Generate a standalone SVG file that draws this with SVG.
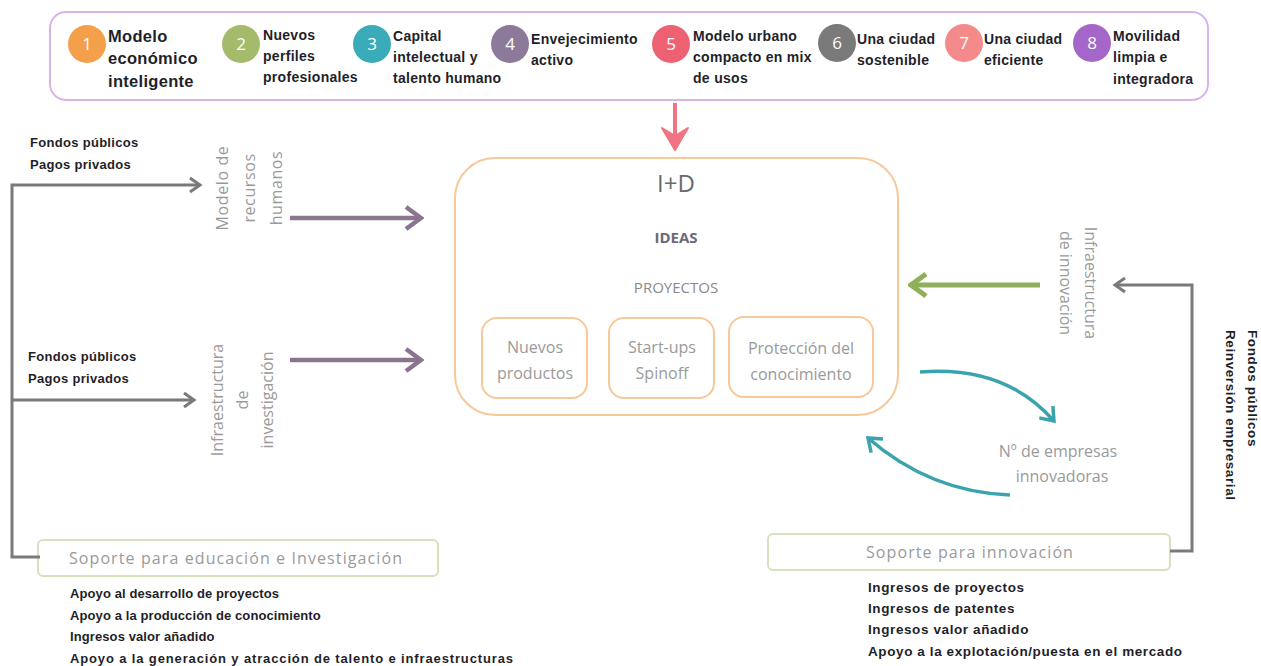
<svg xmlns="http://www.w3.org/2000/svg" width="1261" height="666" viewBox="0 0 1261 666">
<defs>
<style>
.lbl{font-family:"Liberation Sans",Arial,sans-serif;font-weight:bold;fill:#1f1f2a}
.top{font-family:"Liberation Sans",Arial,sans-serif;font-weight:bold;font-size:14px;letter-spacing:0.3px;fill:#1f1f2a}
.num{font-family:"Open Sans",sans-serif;font-size:17px;fill:#fff;text-anchor:middle}
.g{font-family:"Open Sans",sans-serif;font-size:16px;fill:#9a9a9a}
.c{text-anchor:middle}
.obox{fill:#fff;stroke:#f8c898;stroke-width:2}
.gbox{fill:#fff;stroke:#d3e2bc;stroke-width:2}
.gl{fill:none;stroke:#7a7a7a;stroke-width:3}
</style>
<marker id="mg" viewBox="0 0 20 20" refX="17" refY="10" markerWidth="20" markerHeight="20" markerUnits="userSpaceOnUse" orient="auto"><path d="M7,3 L17,10 L7,17" fill="none" stroke="#7a7a7a" stroke-width="3"/></marker>
<marker id="mp" viewBox="0 0 28 28" refX="25" refY="14" markerWidth="28" markerHeight="28" markerUnits="userSpaceOnUse" orient="auto"><path d="M10,3 L25,14 L10,25" fill="none" stroke="#8a7490" stroke-width="4.5"/></marker>
<marker id="mgr" viewBox="0 0 28 28" refX="25" refY="14" markerWidth="28" markerHeight="28" markerUnits="userSpaceOnUse" orient="auto"><path d="M10,3 L25,14 L10,25" fill="none" stroke="#8fb05a" stroke-width="5"/></marker>
<marker id="mt" viewBox="0 0 24 24" refX="20" refY="12" markerWidth="24" markerHeight="24" markerUnits="userSpaceOnUse" orient="auto"><path d="M8,3 L20,12 L8,21" fill="none" stroke="#3aa3ad" stroke-width="3.5"/></marker>
</defs>
<rect width="1261" height="666" fill="#fff"/>

<g id="goals">
<rect x="50" y="12" width="1158" height="88" rx="16" fill="#fff" stroke="#d9b4ea" stroke-width="2"/>
<g id="g1"><circle cx="87" cy="44" r="19" fill="#f4a04a"/><text class="num" x="87" y="50">1</text>
<text class="lbl" font-size="16.5" letter-spacing="0.3"><tspan x="108" y="42">Modelo</tspan><tspan x="108" y="64">económico</tspan><tspan x="108" y="87">inteligente</tspan></text></g>
<g id="g2"><circle cx="241" cy="44" r="19" fill="#a3bb6a"/><text class="num" x="241" y="50">2</text>
<text class="top"><tspan x="263" y="40">Nuevos</tspan><tspan x="263" y="61">perfiles</tspan><tspan x="263" y="82">profesionales</tspan></text></g>
<g id="g3"><circle cx="372" cy="44" r="19" fill="#3aabb8"/><text class="num" x="372" y="50">3</text>
<text class="top"><tspan x="393" y="41">Capital</tspan><tspan x="393" y="62">intelectual y</tspan><tspan x="393" y="83">talento humano</tspan></text></g>
<g id="g4"><circle cx="510" cy="44" r="19" fill="#8d7a9a"/><text class="num" x="510" y="50">4</text>
<text class="top"><tspan x="531" y="44">Envejecimiento</tspan><tspan x="531" y="65">activo</tspan></text></g>
<g id="g5"><circle cx="671" cy="44" r="19" fill="#ee6173"/><text class="num" x="671" y="50">5</text>
<text class="top"><tspan x="693" y="41">Modelo urbano</tspan><tspan x="693" y="62">compacto en mix</tspan><tspan x="693" y="83">de usos</tspan></text></g>
<g id="g6"><circle cx="837" cy="43" r="19" fill="#7a7a7a"/><text class="num" x="837" y="49">6</text>
<text class="top"><tspan x="857" y="44">Una ciudad</tspan><tspan x="857" y="65">sostenible</tspan></text></g>
<g id="g7"><circle cx="964" cy="43" r="19" fill="#f48a8a"/><text class="num" x="964" y="49">7</text>
<text class="top"><tspan x="984" y="44">Una ciudad</tspan><tspan x="984" y="65">eficiente</tspan></text></g>
<g id="g8"><circle cx="1092" cy="43" r="19" fill="#a466c8"/><text class="num" x="1092" y="49">8</text>
<text class="top"><tspan x="1113" y="41">Movilidad</tspan><tspan x="1113" y="62">limpia e</tspan><tspan x="1113" y="84">integradora</tspan></text></g>
</g>

<g id="id-box">
<rect class="obox" x="455" y="158" width="443" height="257" rx="40"/>
<text x="676" y="192" font-family="Open Sans,sans-serif" font-size="24" fill="#6a6a6a" class="c">I+D</text>
<text x="676" y="243" font-family="Open Sans,sans-serif" font-size="15" font-weight="bold" fill="#6a6a78" class="c">IDEAS</text>
<text x="676" y="293" font-family="Open Sans,sans-serif" font-size="15" fill="#8a8a8a" class="c">PROYECTOS</text>
</g>
<g id="nuevos"><rect class="obox" x="482" y="318" width="105" height="80" rx="15"/>
<text class="g c"><tspan x="535" y="353">Nuevos</tspan><tspan x="535" y="379">productos</tspan></text></g>
<g id="startups"><rect class="obox" x="609" y="318" width="105" height="80" rx="15"/>
<text class="g c"><tspan x="662" y="353">Start-ups</tspan><tspan x="662" y="379">Spinoff</tspan></text></g>
<g id="proteccion"><rect class="obox" x="729" y="317" width="144" height="80" rx="15"/>
<text class="g c"><tspan x="801" y="354">Protección del</tspan><tspan x="801" y="380">conocimiento</tspan></text></g>

<g id="rrhh"><text class="g c" letter-spacing="0.6" transform="translate(250,188) rotate(-90)"><tspan x="0" y="-22">Modelo de</tspan><tspan x="0" y="5">recursos</tspan><tspan x="0" y="32">humanos</tspan></text></g>
<g id="infra-inv"><text class="g c" transform="translate(243,400) rotate(-90)"><tspan x="0" y="-20">Infraestructura</tspan><tspan x="0" y="5">de</tspan><tspan x="0" y="30">investigación</tspan></text></g>
<g id="infra-inn"><text class="g c" transform="translate(1078,283) rotate(90)"><tspan x="0" y="-7">Infraestructura</tspan><tspan x="0" y="18">de innovación</tspan></text></g>
<g id="empresas"><text class="g c"><tspan x="1058" y="457">Nº de empresas</tspan><tspan x="1062" y="482">innovadoras</tspan></text></g>

<g id="soporte-edu"><rect class="gbox" x="38" y="540" width="400" height="36" rx="5"/>
<text class="g c" x="236" y="564" letter-spacing="1.1">Soporte para educación e Investigación</text></g>
<g id="soporte-inn"><rect class="gbox" x="768" y="534" width="402" height="36" rx="5"/>
<text class="g c" x="970" y="558" letter-spacing="1.1">Soporte para innovación</text></g>

<g id="labels">
<text class="lbl" font-size="13" letter-spacing="0.3"><tspan x="30" y="147">Fondos públicos</tspan><tspan x="30" y="169">Pagos privados</tspan></text>
<text class="lbl" font-size="13" letter-spacing="0.3"><tspan x="28" y="361">Fondos públicos</tspan><tspan x="28" y="383">Pagos privados</tspan></text>
<text class="lbl" font-size="13.5" letter-spacing="0.6" transform="translate(1241,330) rotate(90)"><tspan x="0" y="-7">Fondos públicos</tspan><tspan x="0" y="15">Reinversión empresarial</tspan></text>
<text class="lbl" font-size="13" letter-spacing="0.1"><tspan x="70" y="598">Apoyo al desarrollo de proyectos</tspan><tspan x="70" y="620">Apoyo a la producción de conocimiento</tspan><tspan x="70" y="641">Ingresos valor añadido</tspan></text>
<text class="lbl" font-size="13" x="70" y="663" textLength="443" lengthAdjust="spacing">Apoyo a la generación y atracción de talento e infraestructuras</text>
<text class="lbl" font-size="13.5" letter-spacing="0.6"><tspan x="868" y="592">Ingresos de proyectos</tspan><tspan x="868" y="613">Ingresos de patentes</tspan><tspan x="868" y="634">Ingresos valor añadido</tspan><tspan x="868" y="656">Apoyo a la explotación/puesta en el mercado</tspan></text>
</g>

<g id="connectors">
<path d="M675,103 V138" stroke="#f07482" stroke-width="4" fill="none"/>
<path d="M662,128 L675,150 L688,128 L675,136 Z" fill="#f07482" stroke="#f07482" stroke-width="2" stroke-linejoin="round"/>
<path class="gl" d="M40,557 H12 V185 H200" marker-end="url(#mg)"/>
<path class="gl" d="M12,400 H194" marker-end="url(#mg)"/>
<path class="gl" d="M1170,551 H1192 V285 H1115" marker-end="url(#mg)"/>
<path d="M290,218 H421" stroke="#8a7490" stroke-width="4.5" fill="none" marker-end="url(#mp)"/>
<path d="M290,360 H421" stroke="#8a7490" stroke-width="4.5" fill="none" marker-end="url(#mp)"/>
<path d="M1040,285 H911" stroke="#8fb05a" stroke-width="5" fill="none" marker-end="url(#mgr)"/>
<path d="M920,372 Q1005,365 1054,421" stroke="#3aa3ad" stroke-width="3.5" fill="none" marker-end="url(#mt)"/>
<path d="M1010,495 Q930,492 868,438" stroke="#3aa3ad" stroke-width="3.5" fill="none" marker-end="url(#mt)"/>
</g>
</svg>
